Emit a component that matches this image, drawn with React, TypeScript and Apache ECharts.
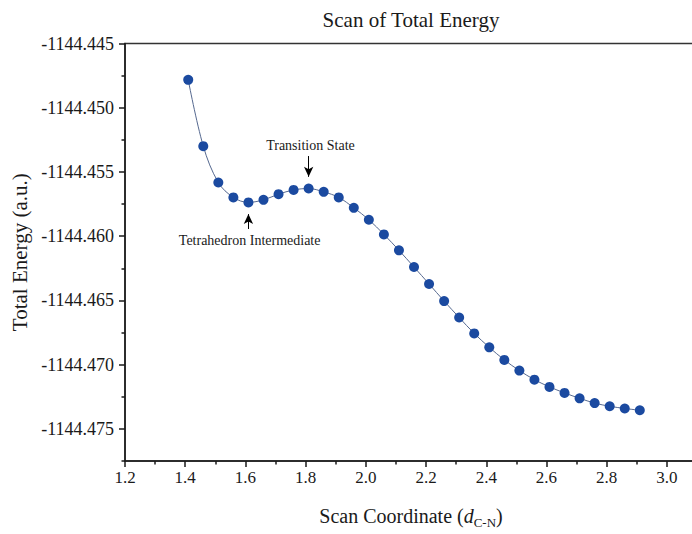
import React, { useEffect, useRef } from "react";
import * as echarts from "echarts";

const scanCoord = [
  1.41, 1.46, 1.51, 1.56, 1.61, 1.66, 1.71, 1.76, 1.81, 1.86, 1.91, 1.96, 2.01,
  2.06, 2.11, 2.16, 2.21, 2.26, 2.31, 2.36, 2.41, 2.46, 2.51, 2.56, 2.61, 2.66,
  2.71, 2.76, 2.81, 2.86, 2.91,
];
const totalEnergy = [
  -1144.44783, -1144.45299, -1144.45582, -1144.45698, -1144.45737, -1144.45717,
  -1144.45673, -1144.4564, -1144.45629, -1144.45655, -1144.45698, -1144.45779,
  -1144.45872, -1144.45986, -1144.4611, -1144.4624, -1144.46372, -1144.46505,
  -1144.46633, -1144.46757, -1144.46865, -1144.46963, -1144.47046, -1144.47117,
  -1144.47173, -1144.4722, -1144.47262, -1144.47299, -1144.47324, -1144.47341,
  -1144.47355,
];

const xMin = 1.2;
const xMax = 3.1;
const xMajorTicks = [1.2, 1.4, 1.6, 1.8, 2.0, 2.2, 2.4, 2.6, 2.8, 3.0];
const xMinorTicks = [1.3, 1.5, 1.7, 1.9, 2.1, 2.3, 2.5, 2.7, 2.9, 3.1];
const yMin = -1144.4775;
const yMax = -1144.445;
const yMajorTicks = [
  -1144.475, -1144.47, -1144.465, -1144.46, -1144.455, -1144.45, -1144.445,
];
const yMinorTicks = [
  -1144.4775, -1144.4725, -1144.4675, -1144.4625, -1144.4575, -1144.4525,
  -1144.4475,
];

// annotations
const annotationLabels = ["Transition State", "Tetrahedron Intermediate"];
const annotationX = [1.81, 1.61];
const arrowFromY = [-1144.45376, -1144.45944];
const arrowToY = [-1144.45538, -1144.45828];
const labelX = [1.816, 1.614];
const labelY = [-1144.45294, -1144.46034];

const FONT = "'Liberation Serif', 'DejaVu Serif', serif";

export default function App() {
  const ref = useRef<HTMLDivElement>(null);
  useEffect(() => {
    if (!ref.current) return;
    const chart = echarts.init(ref.current, undefined, { renderer: "svg" });
    const axisCommon = {
      axisLine: { show: true, lineStyle: { color: "#1a1a1a", width: 1.5 } },
      splitLine: { show: false },
    };
    chart.setOption({
      animation: false,
      backgroundColor: "#ffffff",
      title: {
        text: "Scan of Total Energy",
        left: 406,
        top: 4,
        textAlign: "center",
        textStyle: {
          fontFamily: FONT,
          fontSize: 21,
          fontWeight: "normal",
          color: "#1a1a1a",
        },
      },
      grid: {
        left: 125,
        top: 43.5,
        right: 0,
        bottom: 71,
        show: true,
        borderColor: "#333333",
        borderWidth: 1.5,
        containLabel: false,
      },
      xAxis: [
        {
          type: "value",
          min: xMin,
          max: xMax,
          position: "bottom",
          ...axisCommon,
          axisTick: {
            show: true,
            length: 6,
            customValues: xMajorTicks,
            lineStyle: { color: "#1a1a1a", width: 1.5 },
          },
          axisLabel: {
            customValues: xMajorTicks,
            margin: 8,
            fontFamily: FONT,
            fontSize: 17,
            color: "#1a1a1a",
            formatter: (v: number) => v.toFixed(1),
          },
          name: "{t|Scan Coordinate (}{i|d}{s|C-N}{t|)}",
          nameLocation: "middle",
          nameGap: 42,
          nameTextStyle: {
            rich: {
              t: {
                fontFamily: FONT,
                fontSize: 20,
                color: "#1a1a1a",
                lineHeight: 26,
                verticalAlign: "middle",
              },
              i: {
                fontFamily: FONT,
                fontSize: 20,
                fontStyle: "italic",
                color: "#1a1a1a",
                lineHeight: 26,
                verticalAlign: "middle",
              },
              s: {
                fontFamily: FONT,
                fontSize: 13,
                color: "#1a1a1a",
                lineHeight: 26,
                verticalAlign: "bottom",
                padding: [10, 0, 0, 0],
              },
            },
          },
        },
        {
          type: "value",
          min: xMin,
          max: xMax,
          position: "bottom",
          axisLine: { show: false },
          splitLine: { show: false },
          axisTick: {
            show: true,
            length: 3.5,
            customValues: xMinorTicks,
            lineStyle: { color: "#1a1a1a", width: 1.5 },
          },
          axisLabel: { show: false },
        },
      ],
      yAxis: [
        {
          type: "value",
          min: yMin,
          max: yMax,
          position: "left",
          ...axisCommon,
          axisTick: {
            show: true,
            length: 6,
            customValues: yMajorTicks,
            lineStyle: { color: "#1a1a1a", width: 1.5 },
          },
          axisLabel: {
            customValues: yMajorTicks,
            margin: 11,
            fontFamily: FONT,
            fontSize: 18,
            color: "#1a1a1a",
            formatter: (v: number) => v.toFixed(3),
          },
          name: "Total Energy (a.u.)",
          nameLocation: "middle",
          nameGap: 94,
          nameTextStyle: {
            fontFamily: FONT,
            fontSize: 21,
            color: "#1a1a1a",
          },
        },
        {
          type: "value",
          min: yMin,
          max: yMax,
          position: "left",
          axisLine: { show: false },
          splitLine: { show: false },
          axisTick: {
            show: true,
            length: 3.5,
            customValues: yMinorTicks,
            lineStyle: { color: "#1a1a1a", width: 1.5 },
          },
          axisLabel: { show: false },
        },
      ],
      series: [
        {
          type: "line",
          xAxisIndex: 0,
          yAxisIndex: 0,
          data: scanCoord.map((x, i) => [x, totalEnergy[i]]),
          smooth: 0.35,
          symbol: "circle",
          symbolSize: 10,
          itemStyle: { color: "#1b4aa0" },
          lineStyle: { color: "#55688f", width: 1 },
          silent: true,
          markLine: {
            silent: true,
            symbol: ["none", "arrow"],
            symbolSize: [7, 10],
            lineStyle: { color: "#000000", width: 1, type: "solid" },
            label: { show: false },
            data: annotationX.map((x, i) => [
              { coord: [x, arrowFromY[i]] },
              { coord: [x, arrowToY[i]] },
            ]),
          },
          markPoint: {
            silent: true,
            symbol: "circle",
            symbolSize: 0,
            label: {
              show: true,
              position: "inside",
              fontFamily: FONT,
              fontSize: 14,
              color: "#1a1a1a",
              formatter: (p: any) => p.name,
            },
            data: annotationLabels.map((name, i) => ({
              name,
              coord: [labelX[i], labelY[i]],
            })),
          },
        },
      ],
    });
    return () => chart.dispose();
  }, []);
  return (
    <div
      style={{
        position: "fixed",
        left: 0,
        top: 0,
        width: 692,
        height: 534,
        overflow: "hidden",
        background: "#ffffff",
      }}
    >
      <div ref={ref} style={{ width: 697, height: 534 }} />
    </div>
  );
}
